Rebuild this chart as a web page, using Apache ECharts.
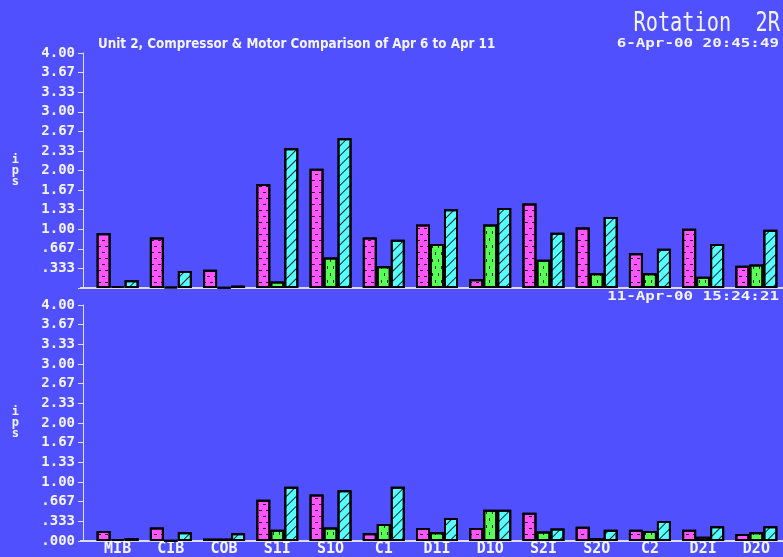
<!DOCTYPE html>
<html>
<head>
<meta charset="utf-8">
<script src="https://cdn.jsdelivr.net/npm/echarts@6/dist/echarts.min.js"></script>
<style>
  html, body { margin: 0; padding: 0; background: #5050FF; }
  #chart { width: 783px; height: 557px; }
</style>
</head>
<body>
<div id="chart"></div>
<script>
// Measurement points along the train
const categories = ['MIB', 'CIB', 'COB', 'S1I', 'S1O', 'C1', 'D1I', 'D1O', 'S2I', 'S2O', 'C2', 'D2I', 'D2O'];

// Apr 6 readings (ips)
const apr6Horizontal = [0.93, 0.86, 0.31, 1.77, 2.03, 0.86, 1.08, 0.15, 1.44, 1.03, 0.59, 1.01, 0.38];
const apr6Vertical   = [0.03, 0.02, 0.01, 0.11, 0.52, 0.37, 0.75, 1.08, 0.48, 0.25, 0.25, 0.19, 0.40];
const apr6Axial      = [0.13, 0.29, 0.04, 2.38, 2.55, 0.82, 1.34, 1.36, 0.94, 1.21, 0.67, 0.75, 0.99];

// Apr 11 readings (ips)
const apr11Horizontal = [0.17, 0.23, 0.04, 0.70, 0.79, 0.13, 0.22, 0.22, 0.48, 0.24, 0.19, 0.19, 0.12];
const apr11Vertical   = [0.03, 0.01, 0.04, 0.19, 0.23, 0.29, 0.15, 0.53, 0.16, 0.05, 0.17, 0.07, 0.15];
const apr11Axial      = [0.05, 0.15, 0.13, 0.92, 0.86, 0.92, 0.39, 0.53, 0.21, 0.19, 0.34, 0.25, 0.25];

// Y tick labels, one per third of an ips
const upperTickLabels = ['', '.333', '.667', '1.00', '1.33', '1.67', '2.00', '2.33', '2.67', '3.00', '3.33', '3.67', '4.00'];
const lowerTickLabels = ['.000', '.333', '.667', '1.00', '1.33', '1.67', '2.00', '2.33', '2.67', '3.00', '3.33', '3.67', '4.00'];

const titleText = 'Unit 2, Compressor & Motor Comparison of Apr 6 to Apr 11';
const rotationText = 'Rotation  2R';
const stampApr6 = '6-Apr-00 20:45:49';
const stampApr11 = '11-Apr-00 15:24:21';

const MONO = "'DejaVu Sans Mono', 'Liberation Mono', monospace";
const AXIS_COLOR = '#DCDCF5';
const TEXT_COLOR = '#F4F4FF';

const styles = {
  horizontal: {
    color: '#FF55FF',
    decal: { symbol: 'rect', symbolSize: 1, color: 'rgba(0,0,0,0.85)',
             dashArrayX: [[3, 4], [0, 4, 3, 0]], dashArrayY: [1, 5] }
  },
  vertical: {
    color: '#55FF55',
    decal: { symbol: 'rect', symbolSize: 1, color: 'rgba(0,0,0,0.85)',
             dashArrayX: [[1, 5], [0, 3, 1, 2]], dashArrayY: [3, 4] }
  },
  axial: {
    color: '#55FFFF',
    decal: { symbol: 'rect', symbolSize: 1, color: 'rgba(0,0,0,0.85)',
             dashArrayX: [1, 0], dashArrayY: [1, 6], rotation: -Math.PI / 4 }
  }
};

function makeY(gridIndex, labels) {
  return {
    type: 'value', gridIndex, min: 0, max: 4, interval: 4 / 12, offset: 8,
    name: 'i\np\ns', nameLocation: 'middle', nameGap: 64, nameRotate: 0,
    nameTextStyle: { color: TEXT_COLOR, fontFamily: MONO, fontWeight: 'bold', fontSize: 12, lineHeight: 11 },
    axisLine: { show: true, lineStyle: { color: AXIS_COLOR, width: 1 } },
    axisTick: { show: true, length: 5, lineStyle: { color: AXIS_COLOR } },
    splitLine: { show: false },
    axisLabel: {
      color: TEXT_COLOR, fontFamily: MONO, fontWeight: 'bold', fontSize: 14, margin: 8,
      formatter: v => labels[Math.round(v * 3)]
    }
  };
}

function makeX(gridIndex, showLabels) {
  return {
    type: 'category', gridIndex, data: categories,
    axisLine: { show: true, lineStyle: { color: AXIS_COLOR, width: 2 } },
    axisTick: { show: false },
    axisLabel: {
      show: showLabels, color: TEXT_COLOR, fontFamily: MONO, fontWeight: 'bold', fontSize: 15, margin: 1
    }
  };
}

function makeBar(name, data, axisIndex, style) {
  return {
    type: 'bar', name, data, xAxisIndex: axisIndex, yAxisIndex: axisIndex,
    barWidth: 14, barGap: '0%', animation: false,
    itemStyle: { color: style.color, borderColor: '#000', borderWidth: 2, decal: style.decal }
  };
}

// Header texts: stretched / condensed to mimic the terminal fonts
function headerText(text, x, y, fontSize, weight, scaleX) {
  return {
    type: 'text', x, y, scaleX, silent: true,
    style: { text, fill: TEXT_COLOR, align: 'right', verticalAlign: 'top',
             font: `${weight} ${fontSize}px ${MONO}` }
  };
}

const chart = echarts.init(document.getElementById('chart'));
chart.setOption({
  backgroundColor: '#5050FF',
  animation: false,
  title: [
    { text: titleText, left: 93, top: 33,
      textStyle: { color: TEXT_COLOR, fontFamily: "'Liberation Sans Narrow', 'DejaVu Sans Condensed', 'Liberation Sans', sans-serif",
                   fontWeight: 'bold', fontSize: 13.3 } }
  ],
  graphic: [
    headerText(rotationText, 780, 11, 26, 'normal', 0.78),
    headerText(stampApr6, 779, 37, 13, 'bold', 1.22),
    headerText(stampApr11, 779, 290, 13, 'bold', 1.22)
  ],
  grid: [
    { left: 91, right: -4, top: 53, height: 235 },
    { left: 91, right: -4, top: 305, height: 238 }
  ],
  xAxis: [makeX(0, false), makeX(1, true)],
  yAxis: [makeY(0, upperTickLabels), makeY(1, lowerTickLabels)],
  series: [
    makeBar('Horizontal Apr 6', apr6Horizontal, 0, styles.horizontal),
    makeBar('Vertical Apr 6', apr6Vertical, 0, styles.vertical),
    makeBar('Axial Apr 6', apr6Axial, 0, styles.axial),
    makeBar('Horizontal Apr 11', apr11Horizontal, 1, styles.horizontal),
    makeBar('Vertical Apr 11', apr11Vertical, 1, styles.vertical),
    makeBar('Axial Apr 11', apr11Axial, 1, styles.axial)
  ]
});

// Carry each baseline left to meet its y axis line (the y axes are offset from the grids)
const baselineStubs = [0, 1].map(i => {
  const zero = chart.convertToPixel({ yAxisIndex: i }, 0);
  const gridLeft = chart.convertToPixel({ xAxisIndex: i }, categories[0]) - (chart.getWidth() + 4 - 91) / categories.length / 2;
  return {
    type: 'line', silent: true, z: 3,
    shape: { x1: 80, y1: zero, x2: gridLeft + 1, y2: zero },
    style: { stroke: AXIS_COLOR, lineWidth: 2 }
  };
});
chart.setOption({
  graphic: [
    headerText(rotationText, 780, 11, 26, 'normal', 0.78),
    headerText(stampApr6, 779, 37, 13, 'bold', 1.22),
    headerText(stampApr11, 779, 290, 13, 'bold', 1.22),
    ...baselineStubs
  ]
});
</script>
</body>
</html>
